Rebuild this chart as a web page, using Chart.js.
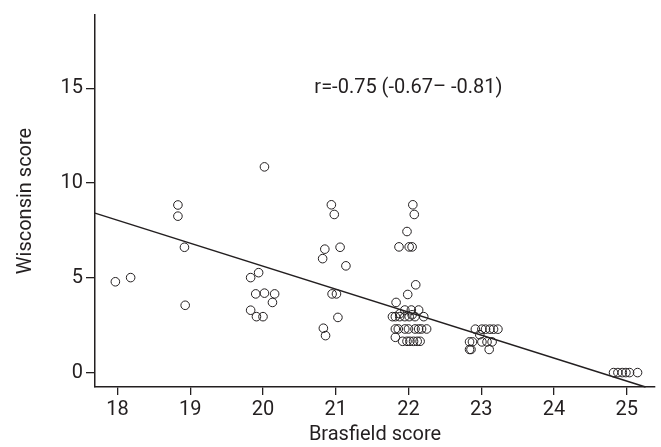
<!DOCTYPE html>
<html lang="en">
<head>
<meta charset="UTF-8">
<title>Brasfield vs Wisconsin</title>
<script src="https://cdn.jsdelivr.net/npm/chart.js@4.4.0/dist/chart.umd.min.js"></script>
<style>
  body { margin: 0; padding: 0; background: #ffffff; }
  #wrap { width: 661px; height: 447px; }
</style>
</head>
<body>
<div id="wrap"><canvas id="scoreChart" width="661" height="447"></canvas></div>
<script>
// patient scores
var brasfield = [
  17.97, 18.18, 18.83, 18.83, 18.92, 18.93,
  20.02, 19.94, 19.83, 19.90, 20.02, 20.16, 20.13, 19.83, 19.91, 20.00,
  20.94, 20.98, 20.85, 20.82, 21.06, 21.14, 20.95, 21.01, 21.03, 20.83, 20.86,
  22.06, 22.08, 21.98, 21.87, 22.01, 22.05, 22.10, 21.99, 21.83,
  21.95, 22.04, 22.14, 21.88, 22.05,
  21.78, 21.82, 21.88, 21.95, 22.01, 22.09, 22.21,
  21.82, 21.86, 21.95, 22.00, 22.09, 22.14, 22.18, 22.25,
  21.82,
  21.92, 21.98, 22.02, 22.07, 22.12, 22.16,
  22.92, 23.01, 23.06, 23.12, 23.17, 23.23,
  22.98,
  22.84, 22.88, 23.01, 23.08, 23.15,
  22.84, 22.86, 23.11,
  24.82, 24.88, 24.94, 24.99, 25.04, 25.15
];
var wisconsin = [
  4.79, 5.01, 8.84, 8.25, 6.61, 3.55,
  10.85, 5.27, 5.01, 4.15, 4.19, 4.15, 3.70, 3.29, 2.95, 2.95,
  8.85, 8.34, 6.51, 6.01, 6.61, 5.63, 4.15, 4.15, 2.91, 2.34, 1.95,
  8.85, 8.34, 7.44, 6.63, 6.63, 6.63, 4.63, 4.12, 3.70,
  3.30, 3.30, 3.30, 3.10, 3.05,
  2.95, 2.95, 2.95, 2.95, 2.95, 2.95, 2.95,
  2.30, 2.30, 2.30, 2.30, 2.30, 2.30, 2.30, 2.30,
  1.86,
  1.65, 1.65, 1.65, 1.65, 1.65, 1.65,
  2.29, 2.29, 2.29, 2.29, 2.29, 2.29,
  2.00,
  1.62, 1.62, 1.62, 1.62, 1.62,
  1.22, 1.22, 1.22,
  0, 0, 0, 0, 0, 0
];

// fitted line end points
var fitX = [17.69, 25.26];
var fitY = [8.41, -0.76];

var xTicks = [18, 19, 20, 21, 22, 23, 24, 25];
var yTicks = [0, 5, 10, 15];

var noteText = 'r=-0.75 (-0.67\u2013 -0.81)';
var noteAt = [22, 15];

var ink = '#231f20';
var fontFamily = 'Roboto, "DejaVu Sans", sans-serif';

var points = brasfield.map(function (b, i) { return { x: b, y: wisconsin[i] }; });
var fitLine = fitX.map(function (b, i) { return { x: b, y: fitY[i] }; });

var noteLabel = {
  id: 'noteLabel',
  afterDatasetsDraw: function (chart) {
    var ctx = chart.ctx;
    var x = chart.scales.x, y = chart.scales.y;
    ctx.save();
    ctx.font = '20px ' + fontFamily;
    ctx.fillStyle = ink;
    ctx.textAlign = 'center';
    ctx.textBaseline = 'middle';
    ctx.fillText(noteText, x.getPixelForValue(noteAt[0]), y.getPixelForValue(noteAt[1]));
    ctx.restore();
  }
};

var ctx = document.getElementById('scoreChart').getContext('2d');
var scoreChart = new Chart(ctx, {
  type: 'scatter',
  data: {
    datasets: [{
      label: 'Patients',
      data: points,
      pointRadius: 4.3,
      pointBorderWidth: 1,
      pointBorderColor: ink,
      pointBackgroundColor: 'rgba(0,0,0,0)'
    }, {
      label: 'Fit',
      data: fitLine,
      showLine: true,
      pointRadius: 0,
      borderColor: ink,
      borderWidth: 1.5,
      clip: false
    }]
  },
  options: {
    responsive: false,
    animation: false,
    layout: { padding: { left: 0, right: 6, top: 7, bottom: 0 } },
    plugins: {
      legend: { display: false },
      tooltip: { enabled: false }
    },
    scales: {
      x: {
        type: 'linear',
        min: 17.69,
        max: 25.39,
        afterBuildTicks: function (scale) {
          scale.ticks = xTicks.map(function (v) { return { value: v }; });
        },
        afterFit: function (scale) { scale.height = 60; },
        grid: { drawOnChartArea: false, drawTicks: true, tickLength: 8, color: ink, lineWidth: 1.3 },
        border: { display: true, color: ink, width: 1.5 },
        ticks: { color: ink, padding: 3, font: { family: fontFamily, size: 20 } },
        title: {
          display: true,
          text: 'Brasfield score',
          color: ink,
          padding: { top: 0, bottom: 0 },
          font: { family: fontFamily, size: 20 }
        }
      },
      y: {
        type: 'linear',
        min: -0.76,
        max: 18.86,
        afterBuildTicks: function (scale) {
          scale.ticks = yTicks.map(function (v) { return { value: v }; });
        },
        afterFit: function (scale) { scale.width = 95; },
        grid: { drawOnChartArea: false, drawTicks: true, tickLength: 9, color: ink, lineWidth: 1.3 },
        border: { display: true, color: ink, width: 1.5 },
        ticks: { color: ink, padding: 3, font: { family: fontFamily, size: 20 } },
        title: {
          display: true,
          text: 'Wisconsin score',
          color: ink,
          padding: { top: 14, bottom: 0 },
          font: { family: fontFamily, size: 20 }
        }
      }
    }
  },
  plugins: [noteLabel]
});
</script>
</body>
</html>
